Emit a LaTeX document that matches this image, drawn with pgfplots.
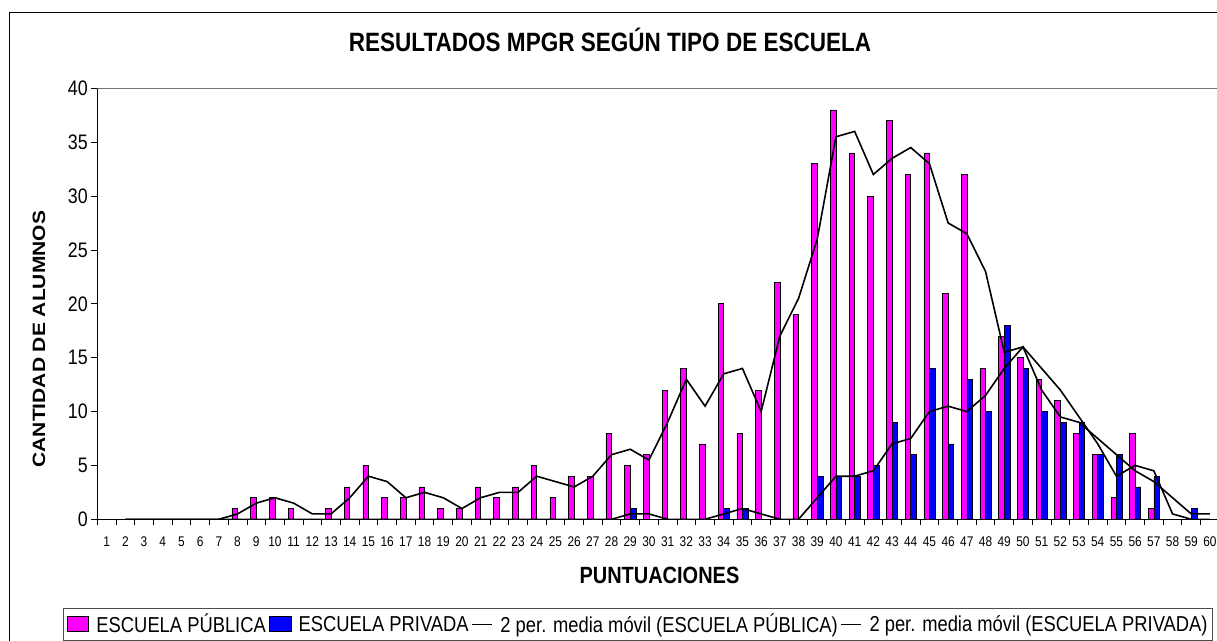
\documentclass[border=0pt]{standalone}
\usepackage{fontspec}
\setmainfont{Liberation Sans}[FakeStretch=0.85]
\newfontfamily\rotfont{Liberation Sans}[FakeStretch=1.176]
\usepackage{pgfplots}
\pgfplotsset{compat=1.18}
\usepackage{pgfplotstable}
\definecolor{pubc}{RGB}{255,0,255}
\definecolor{privc}{RGB}{0,0,255}

\pgfplotstableread{
x pub priv mpub mpriv
1 0 0 nan nan
2 0 0 0 0
3 0 0 0 0
4 0 0 0 0
5 0 0 0 0
6 0 0 0 0
7 0 0 0 0
8 1 0 0.5 0
9 2 0 1.5 0
10 2 0 2 0
11 1 0 1.5 0
12 0 0 0.5 0
13 1 0 0.5 0
14 3 0 2 0
15 5 0 4 0
16 2 0 3.5 0
17 2 0 2 0
18 3 0 2.5 0
19 1 0 2 0
20 1 0 1 0
21 3 0 2 0
22 2 0 2.5 0
23 3 0 2.5 0
24 5 0 4 0
25 2 0 3.5 0
26 4 0 3 0
27 4 0 4 0
28 8 0 6 0
29 5 1 6.5 0.5
30 6 0 5.5 0.5
31 12 0 9 0
32 14 0 13 0
33 7 0 10.5 0
34 20 1 13.5 0.5
35 8 1 14 1
36 12 0 10 0.5
37 22 0 17 0
38 19 0 20.5 0
39 33 4 26 2
40 38 4 35.5 4
41 34 4 36 4
42 30 5 32 4.5
43 37 9 33.5 7
44 32 6 34.5 7.5
45 34 14 33 10
46 21 7 27.5 10.5
47 32 13 26.5 10
48 14 10 23 11.5
49 17 18 15.5 14
50 15 14 16 16
51 13 10 14 12
52 11 9 12 9.5
53 8 9 9.5 9
54 6 6 7 7.5
55 2 6 4 6
56 8 3 5 4.5
57 1 4 4.5 3.5
58 0 0 0.5 2
59 0 1 0 0.5
60 0 0 0 0.5
}\datatable

\begin{document}
\begin{tikzpicture}[x=1pt,y=1pt]
\useasboundingbox (0,0) rectangle (1217,640);
\clip (0,0) rectangle (1217,640);
\fill[white] (0,0) rectangle (1217,640);
\draw[line width=0.8pt] (9,-20) rectangle (1260,627.7);
\begin{axis}[
  at={(97.3pt,120.7pt)}, anchor=south west,
  scale only axis, width=1122pt, height=431pt,
  xmin=0.5, xmax=60.5, ymin=0, ymax=40,
  axis x line*=bottom, axis y line*=left,
  axis line style={line width=0.8pt, black},
  xtick={1,...,60},
  minor xtick={0.5,1.5,...,60.5},
  major x tick style={draw=none},
  minor x tick style={black, line width=0.8pt},
  ytick={0,5,...,40},
  ytick style={black, line width=0.8pt},
  tick align=outside,
  major tick length=6pt, minor tick length=6pt,
  /pgf/number format/assume math mode=true,
  xticklabel style={font=\fontsize{14}{16}\selectfont, yshift=-8pt},
  yticklabel style={font=\fontsize{21}{24}\selectfont},
  title={RESULTADOS MPGR SEGÚN TIPO DE ESCUELA},
  title style={at={(axis description cs:0.457,1.0703)}, anchor=base,
    font=\bfseries\fontsize{26.5}{30}\selectfont},
  xlabel={PUNTUACIONES},
  xlabel style={at={(axis description cs:0.501,-0.1478)}, anchor=base,
    font=\bfseries\fontsize{23.5}{26}\selectfont},
  ylabel={CANTIDAD DE ALUMNOS},
  ylabel style={at={(axis description cs:-0.052,0.418)}, anchor=center,
    font=\rotfont\bfseries\fontsize{17.85}{20}\selectfont},
  legend columns=-1,
  legend style={at={(axis description cs:-0.0303,-0.2051)}, anchor=north west,
    draw=black!70, line width=0.8pt, fill=white,
    inner xsep=3pt, inner ysep=4pt,
    nodes={inner sep=2pt},
    font=\fontsize{21.6}{24}\selectfont,
    /tikz/every even column/.append style={column sep=1pt},
    /tikz/every odd column/.append style={column sep=5.5pt}},
]
\draw[black!55, line width=0.8pt] (axis description cs:0,1) -- (axis description cs:1,1) -- (axis description cs:1,0);
\addplot[ybar, bar width=0.3, bar shift=-0.15, fill=pubc, draw=black, line width=0.6pt,
  legend image code/.code={\draw[fill=pubc, draw=black, line width=0.6pt] (0pt,-7.5pt) rectangle (21.7pt,7.5pt);}]
  table[x=x, y=pub] {\datatable};
\addlegendentry{ESCUELA PÚBLICA}
\addplot[ybar, bar width=0.3, bar shift=0.15, fill=privc, draw=black, line width=0.6pt,
  legend image code/.code={\draw[fill=privc, draw=black, line width=0.6pt] (0pt,-7.5pt) rectangle (21.7pt,7.5pt);}]
  table[x=x, y=priv] {\datatable};
\addlegendentry{ESCUELA PRIVADA}
\addplot[sharp plot, black, line width=1.6pt, no markers,
  legend image code/.code={\path[draw=none, fill=none] (0pt,-7.5pt) rectangle (20pt,7.5pt); \draw[black, line width=1.2pt] (0pt,0pt) -- (20pt,0pt);}]
  table[x=x, y=mpub] {\datatable};
\addlegendentry{2 per. media móvil (ESCUELA PÚBLICA)}
\addplot[sharp plot, black, line width=1.6pt, no markers,
  legend image code/.code={\path[draw=none, fill=none] (0pt,-7.5pt) rectangle (20pt,7.5pt); \draw[black, line width=1.2pt] (0pt,0pt) -- (20pt,0pt);}]
  table[x=x, y=mpriv] {\datatable};
\addlegendentry{2 per. media móvil (ESCUELA PRIVADA)}
\end{axis}
\end{tikzpicture}
\end{document}
